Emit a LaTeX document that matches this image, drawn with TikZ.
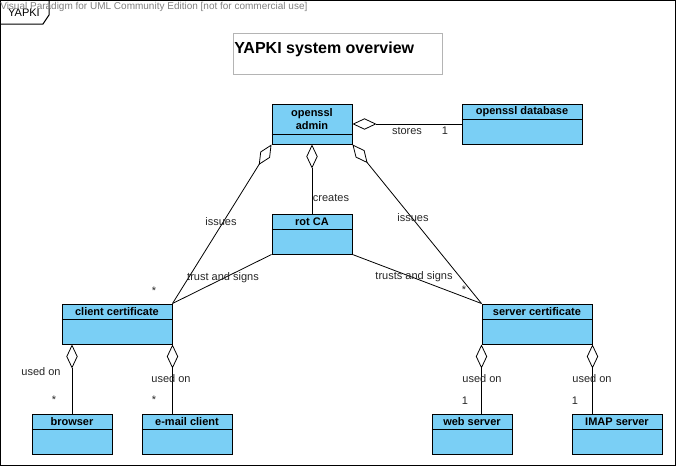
\documentclass[tikz,border=0pt]{standalone}
\usepackage{fontspec}
\setmainfont{Liberation Sans}
\usetikzlibrary{arrows.meta}

\definecolor{classblue}{RGB}{122,207,245}
\definecolor{wmgray}{RGB}{128,128,128}
\definecolor{titlegray}{RGB}{180,180,180}

\tikzset{
    classbox/.style={draw, line width=0.75pt, fill=classblue, minimum height=30pt, inner sep=0pt},
    classname/.style={font=\fontsize{8.25}{9.5}\selectfont\bfseries, align=center, inner sep=0pt},
    assoc/.style={line width=0.6pt},
    agg/.style={line width=0.6pt, {Diamond[open, length=18pt, width=8.5pt, line width=0.6pt]}-},
    lbl/.style={font=\fontsize{8.25}{9.5}\selectfont, text=black!85, inner sep=0pt}
}

% class box: name, x, y, width, header height, text
\newcommand{\umlclass}[6]{%
    \node[classbox, minimum width=#4*0.75pt] (#1) at (#2,#3) {};
    \node[classname, anchor=north, minimum height=#5*0.75pt] (#1-name) at (#1.north) {#6};
    \draw[line width=0.75pt] (#1-name.south -| #1.west) -- (#1-name.south -| #1.east);
}

\begin{document}
\begin{tikzpicture}[x=0.75pt, y=-0.75pt]
    \useasboundingbox (0,0) rectangle (676,468);

    % Frame
    \draw[line width=0.75pt] (0.5,0.5) rectangle (675,465);
    \draw[line width=0.75pt] (0.5,24) -- (43,24) -- (49,15) -- (49,0.5);
    \node[font=\fontsize{8.25}{9.5}\selectfont, inner sep=0pt] (frame-name) at (24,13) {YAPKI};
    \node[font=\fontsize{7.5}{9}\selectfont, text=wmgray, anchor=west, inner sep=0pt] (watermark) at (0,7) {Visual Paradigm for UML Community Edition [not for commercial use]};

    % Title
    \node[draw=titlegray, line width=0.75pt, minimum width=209*0.75pt, minimum height=41*0.75pt] (title) at (337.5,53.5) {};
    \node[font=\fontsize{12}{14}\selectfont\bfseries, anchor=west, inner sep=0pt] (title-text) at (234,49) {YAPKI system overview};

    % Classes
    \umlclass{admin}{312}{124}{80}{30}{openssl\\admin}
    \umlclass{database}{522}{124}{120}{15}{openssl database}
    \umlclass{rotca}{312}{234}{80}{15}{rot CA}
    \umlclass{client}{117}{324}{110}{15}{client certificate}
    \umlclass{server}{537}{324}{110}{15}{server certificate}
    \umlclass{browser}{72}{434}{80}{15}{browser}
    \umlclass{email}{187}{434}{90}{15}{e-mail client}
    \umlclass{web}{472}{434}{80}{15}{web server}
    \umlclass{imap}{617}{434}{90}{15}{IMAP server}

    % Aggregations from admin
    \draw[agg] (admin.east) -- (database.west);
    \draw[agg] (admin.south) -- (rotca.north);
    \draw[agg] (admin.south west) -- (client.north east);
    \draw[agg] (admin.south east) -- (server.north west);

    % CA signs certificates
    \draw[assoc] (rotca.south west) -- (client.north east);
    \draw[assoc] (rotca.south east) -- (server.north west);

    % Certificates used on
    \draw[agg] (browser.north |- client.south) -- (browser.north);
    \draw[agg] (client.south east) -- (client.south east |- email.north);
    \draw[agg] (server.south west) -- (server.south west |- web.north);
    \draw[agg] (server.south east) -- (server.south east |- imap.north);

    % Association labels
    \node[lbl] (stores) at (407,131) {stores};
    \node[lbl] (stores-m) at (445,131) {1};
    \node[lbl] (creates) at (331,198) {creates};
    \node[lbl] (issues-l) at (221,222) {issues};
    \node[lbl] (issues-r) at (413,218) {issues};
    \node[lbl] (issues-lm) at (154,291) {*};
    \node[lbl] (issues-rm) at (464,290) {*};
    \node[lbl] (signs-l) at (223,278) {trust and signs};
    \node[lbl] (signs-r) at (414,277) {trusts and signs};

    % Usage labels
    \node[lbl] (used-browser) at (41,372) {used on};
    \node[lbl] (used-email) at (171,379) {used on};
    \node[lbl] (used-web) at (482,379) {used on};
    \node[lbl] (used-imap) at (592,379) {used on};
    \node[lbl] (used-browser-m) at (54,400) {*};
    \node[lbl] (used-email-m) at (154,400) {*};
    \node[lbl] (used-web-m) at (465,401) {1};
    \node[lbl] (used-imap-m) at (575,401) {1};
\end{tikzpicture}
\end{document}
